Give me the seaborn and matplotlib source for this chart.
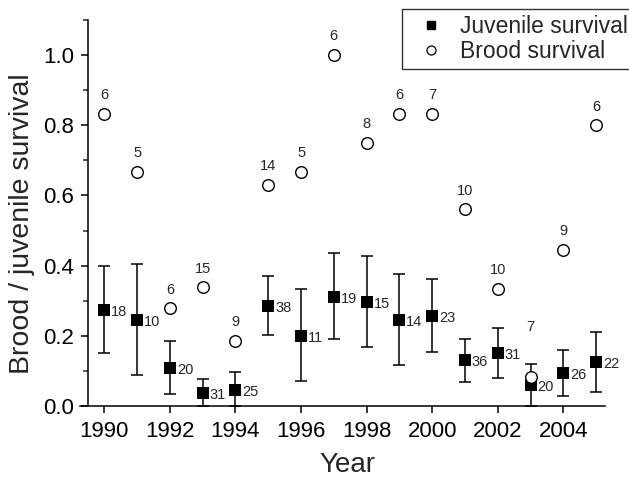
import numpy as np
import pandas as pd
import seaborn as sns
import matplotlib.pyplot as plt
from matplotlib.lines import Line2D
from matplotlib.ticker import MultipleLocator

years = list(range(1990, 2006))

# juvenile survival (filled squares) with error bar limits and sample sizes
juv_surv = [0.275, 0.245, 0.108, 0.037, 0.047, 0.286, 0.200, 0.312,
            0.296, 0.246, 0.256, 0.130, 0.152, 0.059, 0.094, 0.125]
juv_upper = [0.398, 0.405, 0.186, 0.077, 0.096, 0.370, 0.333, 0.435,
             0.427, 0.375, 0.362, 0.191, 0.222, 0.120, 0.161, 0.212]
juv_lower = [0.152, 0.088, 0.033, 0.0, 0.0, 0.201, 0.070, 0.190,
             0.168, 0.118, 0.155, 0.067, 0.079, 0.0, 0.029, 0.040]
juv_n = [18, 10, 20, 31, 25, 38, 11, 19, 15, 14, 23, 36, 31, 20, 26, 22]

# brood survival (open circles) and number of broods
brood_surv = [0.833, 0.667, 0.278, 0.338, 0.185, 0.630, 0.667, 1.0,
              0.75, 0.833, 0.833, 0.560, 0.333, 0.083, 0.444, 0.8]
brood_n = [6, 5, 6, 15, 9, 14, 5, 6, 8, 6, 7, 10, 10, 7, 9, 6]

df = pd.DataFrame({"year": years, "juv": juv_surv, "lo": juv_lower,
                   "hi": juv_upper, "brood": brood_surv})

sns.set_style("ticks")
plt.rcParams["font.family"] = ["Liberation Sans", "DejaVu Sans"]

fig = plt.figure(figsize=(6.29, 4.78), dpi=100)
ax = fig.add_axes([80 / 629, 72 / 478, 525 / 629, 386 / 478])

yerr = np.array([df["juv"] - df["lo"], df["hi"] - df["juv"]])
ax.errorbar(df["year"], df["juv"], yerr=yerr, fmt="none", ecolor="black",
            elinewidth=1.1, capsize=4, capthick=1.1, zorder=2)
sns.scatterplot(data=df, x="year", y="juv", marker="s", s=70, color="black",
                edgecolor="black", linewidth=0, ax=ax, zorder=3)
sns.scatterplot(data=df, x="year", y="brood", marker="o", s=70,
                facecolor="white", edgecolor="black", linewidth=1.0,
                ax=ax, zorder=4)

for yr, v, n in zip(years, juv_surv, juv_n):
    ax.annotate(str(n), (yr, v), xytext=(5, -1.5), textcoords="offset points",
                ha="left", va="center", fontsize=10.5)
for yr, v, n in zip(years, brood_surv, brood_n):
    dy = 36 if yr == 2003 else 13.5
    ax.annotate(str(n), (yr, v), xytext=(0, dy), textcoords="offset points",
                ha="center", va="center", fontsize=10.5)

ax.set_xlim(1989.26, 2005.27)
ax.set_ylim(0, 1.1)
ax.spines["left"].set_position(("data", 1989.5))
ax.spines["top"].set_visible(False)
ax.spines["right"].set_visible(False)
for s in ["left", "bottom"]:
    ax.spines[s].set_linewidth(1.1)
    ax.spines[s].set_color("black")

ax.set_xticks(range(1990, 2005, 2))
ax.set_yticks([0.0, 0.2, 0.4, 0.6, 0.8, 1.0])
ax.set_yticklabels(["0.0", "0.2", "0.4", "0.6", "0.8", "1.0"])
ax.yaxis.set_minor_locator(MultipleLocator(0.1))
ax.tick_params(axis="both", which="major", direction="out", length=5,
               width=1.1, labelsize=16, colors="black")
ax.tick_params(axis="x", which="major", pad=5.5)
ax.tick_params(axis="y", which="major", pad=5)
ax.tick_params(axis="y", which="minor", direction="out", length=3.3, width=1.1)

ax.set_xlabel("Year", fontsize=20)
ax.set_ylabel("Brood / juvenile survival", fontsize=20.5)
ax.xaxis.set_label_coords(0.510, -0.118)
ax.yaxis.set_label_coords(-0.086, 0.4715)

handles = [
    Line2D([], [], marker="s", color="black", linestyle="none", markersize=6),
    Line2D([], [], marker="o", markerfacecolor="white", markeredgecolor="black",
           markeredgewidth=0.9, linestyle="none", markersize=6.5),
]
leg = fig.legend(handles, ["Juvenile survival", "Brood survival"],
                 loc="lower left", bbox_to_anchor=(402 / 629, 1 - 69 / 478),
                 fontsize=16.5, frameon=True, fancybox=False, borderpad=0.25,
                 labelspacing=0.1, handlelength=2.0, handletextpad=0.3,
                 borderaxespad=0)
leg.get_frame().set_edgecolor("black")
leg.get_frame().set_linewidth(1.0)

fig.savefig("out.png", dpi=100)
plt.close()
